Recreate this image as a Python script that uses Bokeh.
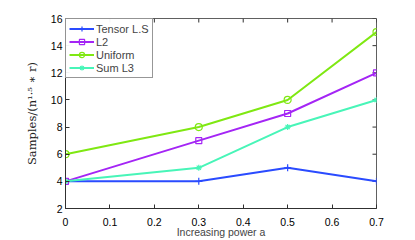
import math
from bokeh.plotting import figure
from bokeh.models import FixedTicker, Legend, LegendItem
from bokeh.embed import file_html
from bokeh.resources import INLINE

x = [0, 0.3, 0.5, 0.7]
tensor_ls = [4, 4, 5, 4]
l2 = [4, 7, 9, 12]
uniform = [6, 8, 10, 15]
sum_l3 = [4, 5, 8, 10]
x_ticks = [0, 0.1, 0.2, 0.3, 0.4, 0.5, 0.6, 0.7]
y_ticks = [2, 4, 6, 8, 10, 12, 14, 16]

p = figure(width=408, height=240, output_backend="svg", toolbar_location=None,
           x_range=(0, 0.7), y_range=(2, 16),
           min_border_left=65, min_border_right=32, min_border_top=18, min_border_bottom=27)
p.xgrid.visible = False
p.ygrid.visible = False
p.outline_line_color = "#606060"
p.background_fill_color = "white"
p.border_fill_color = "white"

font = "Liberation Sans"
for ax in p.xaxis + p.yaxis:
    ax.major_tick_in = 4
    ax.major_tick_out = 0
    ax.minor_tick_line_color = None
    ax.axis_line_color = "#303030"
    ax.major_tick_line_color = "#303030"
    ax.major_label_text_font = font
    ax.major_label_text_font_size = "10.5px"
    ax.major_label_text_color = "black"
    ax.axis_label_text_font_style = "normal"
p.xaxis.ticker = FixedTicker(ticks=x_ticks)
p.yaxis.ticker = FixedTicker(ticks=y_ticks)
p.xaxis.axis_label = "Increasing power a"
p.xaxis.axis_label_text_font = font
p.xaxis.axis_label_text_font_size = "10.5px"
p.xaxis.axis_label_standoff = -3
p.xaxis.major_label_standoff = 9
p.yaxis.axis_label = "Samples/(n¹·⁵ ∗ r)"
p.yaxis.axis_label_text_font = "DejaVu Serif"
p.yaxis.axis_label_text_font_size = "11.5px"
p.yaxis.axis_label_text_color = "#222222"
p.yaxis.axis_label_standoff = 9
p.yaxis.major_label_standoff = 3

# box ticks on top and right (MATLAB style)
p.ray(x=x_ticks, y=[16] * len(x_ticks), length=4, length_units="screen",
      angle=-math.pi / 2, line_color="#303030", line_width=1)
p.ray(x=[0.7] * len(y_ticks), y=y_ticks, length=4, length_units="screen",
      angle=math.pi, line_color="#303030", line_width=1)

c_t = "#2a4bff"
c_l2 = "#a425f5"
c_u = "#7fe812"
c_s = "#48f5b8"

r1 = p.line(x, tensor_ls, line_color=c_t, line_width=2)
m1 = p.scatter(x, tensor_ls, marker="cross", size=7, line_color=c_t, line_width=1.2)
r2 = p.line(x, l2, line_color=c_l2, line_width=2)
m2 = p.scatter(x, l2, marker="square", size=6, line_color=c_l2, fill_color=None, line_width=1.2)
r3 = p.line(x, uniform, line_color=c_u, line_width=2)
m3 = p.scatter(x, uniform, marker="circle", size=7, line_color=c_u, fill_color=None, line_width=1.2)
r4 = p.line(x, sum_l3, line_color=c_s, line_width=2)
m4 = p.scatter(x, sum_l3, marker="asterisk", size=6, line_color=c_s, line_width=1.2)

legend = Legend(items=[
    LegendItem(label="Tensor L.S", renderers=[r1, m1]),
    LegendItem(label="L2", renderers=[r2, m2]),
    LegendItem(label="Uniform", renderers=[r3, m3]),
    LegendItem(label="Sum L3", renderers=[r4, m4]),
], location="top_left")
legend.margin = 0
legend.padding = 3
legend.spacing = 0
legend.glyph_width = 25
legend.glyph_height = 13
legend.label_height = 13
legend.label_standoff = 2
legend.label_text_font = font
legend.label_text_font_size = "11px"
legend.border_line_color = "#303030"
legend.border_line_width = 1
p.add_layout(legend)

open("out.html", "w").write(file_html(p, INLINE))
